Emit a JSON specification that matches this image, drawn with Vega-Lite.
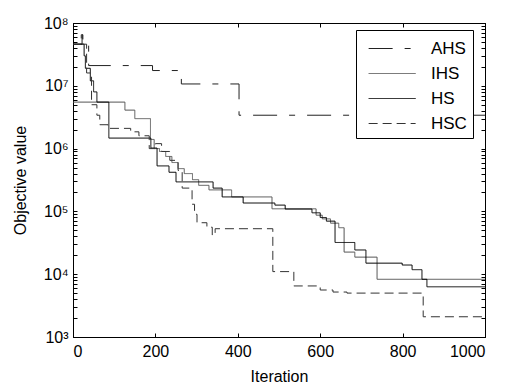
{
  "$schema": "https://vega.github.io/schema/vega-lite/v6.json",
  "width": 412,
  "height": 314,
  "autosize": {"type": "none"},
  "padding": {"left": 73, "top": 23, "right": 28, "bottom": 48},
  "background": "white",
  "config": {
    "font": "Liberation Sans",
    "view": {"stroke": "black", "strokeWidth": 1},
    "axis": {
      "domainColor": "black", "tickColor": "black", "labelColor": "black", "titleColor": "black",
      "grid": false, "labelFont": "Liberation Sans", "titleFont": "Liberation Sans",
      "labelFontSize": 16, "titleFontSize": 16, "titleFontWeight": "normal",
      "tickSize": -4, "domainWidth": 1, "tickWidth": 1
    }
  },
  "data": {"values": [
    {"series": "AHS", "iter": 0, "value": 46000000},
    {"series": "AHS", "iter": 22, "value": 65000000},
    {"series": "AHS", "iter": 24, "value": 46000000},
    {"series": "AHS", "iter": 38, "value": 21000000},
    {"series": "AHS", "iter": 193, "value": 17500000},
    {"series": "AHS", "iter": 263, "value": 10700000},
    {"series": "AHS", "iter": 403, "value": 3400000},
    {"series": "AHS", "iter": 1000, "value": 3400000},

    {"series": "IHS", "iter": 0, "value": 5500000},
    {"series": "IHS", "iter": 126, "value": 4100000},
    {"series": "IHS", "iter": 150, "value": 3000000},
    {"series": "IHS", "iter": 188, "value": 1400000},
    {"series": "IHS", "iter": 197, "value": 1000000},
    {"series": "IHS", "iter": 210, "value": 900000},
    {"series": "IHS", "iter": 225, "value": 750000},
    {"series": "IHS", "iter": 240, "value": 600000},
    {"series": "IHS", "iter": 255, "value": 480000},
    {"series": "IHS", "iter": 270, "value": 400000},
    {"series": "IHS", "iter": 290, "value": 320000},
    {"series": "IHS", "iter": 305, "value": 260000},
    {"series": "IHS", "iter": 330, "value": 220000},
    {"series": "IHS", "iter": 385, "value": 170000},
    {"series": "IHS", "iter": 483, "value": 110000},
    {"series": "IHS", "iter": 590, "value": 87000},
    {"series": "IHS", "iter": 605, "value": 76000},
    {"series": "IHS", "iter": 625, "value": 65000},
    {"series": "IHS", "iter": 645, "value": 55000},
    {"series": "IHS", "iter": 658, "value": 22500},
    {"series": "IHS", "iter": 684, "value": 18700},
    {"series": "IHS", "iter": 738, "value": 8300},
    {"series": "IHS", "iter": 1000, "value": 8300},

    {"series": "HS", "iter": 0, "value": 46000000},
    {"series": "HS", "iter": 27, "value": 30000000},
    {"series": "HS", "iter": 30, "value": 19000000},
    {"series": "HS", "iter": 42, "value": 12000000},
    {"series": "HS", "iter": 50, "value": 8000000},
    {"series": "HS", "iter": 58, "value": 5500000},
    {"series": "HS", "iter": 87, "value": 1470000},
    {"series": "HS", "iter": 189, "value": 1020000},
    {"series": "HS", "iter": 204, "value": 530000},
    {"series": "HS", "iter": 233, "value": 420000},
    {"series": "HS", "iter": 250, "value": 295000},
    {"series": "HS", "iter": 340, "value": 235000},
    {"series": "HS", "iter": 362, "value": 170000},
    {"series": "HS", "iter": 413, "value": 136000},
    {"series": "HS", "iter": 490, "value": 126000},
    {"series": "HS", "iter": 515, "value": 109000},
    {"series": "HS", "iter": 580, "value": 95000},
    {"series": "HS", "iter": 600, "value": 80000},
    {"series": "HS", "iter": 615, "value": 70000},
    {"series": "HS", "iter": 636, "value": 32000},
    {"series": "HS", "iter": 684, "value": 24300},
    {"series": "HS", "iter": 711, "value": 15000},
    {"series": "HS", "iter": 799, "value": 14000},
    {"series": "HS", "iter": 823, "value": 11800},
    {"series": "HS", "iter": 847, "value": 8300},
    {"series": "HS", "iter": 859, "value": 6300},
    {"series": "HS", "iter": 1000, "value": 6300},

    {"series": "HSC", "iter": 0, "value": 46000000},
    {"series": "HSC", "iter": 20, "value": 65000000},
    {"series": "HSC", "iter": 23, "value": 46000000},
    {"series": "HSC", "iter": 33, "value": 16000000},
    {"series": "HSC", "iter": 45, "value": 5000000},
    {"series": "HSC", "iter": 58, "value": 3400000},
    {"series": "HSC", "iter": 65, "value": 2400000},
    {"series": "HSC", "iter": 85, "value": 2100000},
    {"series": "HSC", "iter": 140, "value": 1850000},
    {"series": "HSC", "iter": 160, "value": 1600000},
    {"series": "HSC", "iter": 185, "value": 1000000},
    {"series": "HSC", "iter": 200, "value": 1200000},
    {"series": "HSC", "iter": 215, "value": 900000},
    {"series": "HSC", "iter": 235, "value": 650000},
    {"series": "HSC", "iter": 255, "value": 450000},
    {"series": "HSC", "iter": 265, "value": 235000},
    {"series": "HSC", "iter": 289, "value": 130000},
    {"series": "HSC", "iter": 295, "value": 90000},
    {"series": "HSC", "iter": 301, "value": 66000},
    {"series": "HSC", "iter": 325, "value": 56000},
    {"series": "HSC", "iter": 338, "value": 42000},
    {"series": "HSC", "iter": 345, "value": 53000},
    {"series": "HSC", "iter": 485, "value": 11000},
    {"series": "HSC", "iter": 536, "value": 6500},
    {"series": "HSC", "iter": 600, "value": 5600},
    {"series": "HSC", "iter": 631, "value": 5200},
    {"series": "HSC", "iter": 665, "value": 5000},
    {"series": "HSC", "iter": 850, "value": 2100},
    {"series": "HSC", "iter": 1000, "value": 2100}
  ]},
  "layer": [
    {
      "mark": {"type": "line", "interpolate": "step-after", "strokeWidth": 1},
      "encoding": {
        "x": {
          "field": "iter", "type": "quantitative",
          "scale": {"domain": [0, 1000], "nice": false},
          "axis": {"title": "Iteration", "format": "d", "values": [0, 200, 400, 600, 800, 1000], "labelPadding": 10, "titlePadding": 9}
        },
        "y": {
          "field": "value", "type": "quantitative",
          "scale": {"type": "log", "domain": [1000, 100000000], "nice": false},
          "axis": {
            "title": "Objective value", "titlePadding": 15, "labelPadding": 9,
            "values": [1000,2000,3000,4000,5000,6000,7000,8000,9000,10000,20000,30000,40000,50000,60000,70000,80000,90000,100000,200000,300000,400000,500000,600000,700000,800000,900000,1000000,2000000,3000000,4000000,5000000,6000000,7000000,8000000,9000000,10000000,20000000,30000000,40000000,50000000,60000000,70000000,80000000,90000000,100000000],
            "labelExpr": "datum.value == 1000 ? '10³' : datum.value == 10000 ? '10⁴' : datum.value == 100000 ? '10⁵' : datum.value == 1000000 ? '10⁶' : datum.value == 10000000 ? '10⁷' : datum.value == 100000000 ? '10⁸' : ''"
          }
        },
        "color": {
          "field": "series", "type": "nominal",
          "scale": {"domain": ["AHS", "IHS", "HS", "HSC"], "range": ["#222222", "#555555", "#000000", "#333333"]},
          "legend": {"title": null, "orient": "none", "legendX": 283, "legendY": 7, "symbolType": "M-0.5,0H3.5", "symbolSize": 552, "symbolStrokeWidth": 1, "labelFontSize": 17, "labelFont": "Liberation Sans", "labelColor": "black", "strokeColor": "black", "fillColor": "white", "padding": 6, "rowPadding": 4, "labelOffset": 44}
        },
        "strokeDash": {
          "field": "series", "type": "nominal",
          "scale": {"domain": ["AHS", "IHS", "HS", "HSC"], "range": [[24, 12, 6, 12], [1, 0], [1, 0], [9, 5]]},
          "legend": {"title": null, "orient": "none", "legendX": 283, "legendY": 7, "symbolType": "M-0.5,0H3.5", "symbolSize": 552, "symbolStrokeWidth": 1, "labelFontSize": 17, "labelFont": "Liberation Sans", "labelColor": "black", "strokeColor": "black", "fillColor": "white", "padding": 6, "rowPadding": 4, "labelOffset": 44}
        }
      }
    },
    {
      "mark": {"type": "point", "opacity": 0},
      "encoding": {
        "x": {"field": "iter", "type": "quantitative", "scale": {"domain": [0, 1000], "nice": false},
              "axis": {"orient": "top", "labels": false, "title": null, "values": [0, 200, 400, 600, 800, 1000]}},
        "y": {"field": "value", "type": "quantitative", "scale": {"type": "log", "domain": [1000, 100000000], "nice": false},
              "axis": {"orient": "right", "labels": false, "title": null,
                       "values": [1000,2000,3000,4000,5000,6000,7000,8000,9000,10000,20000,30000,40000,50000,60000,70000,80000,90000,100000,200000,300000,400000,500000,600000,700000,800000,900000,1000000,2000000,3000000,4000000,5000000,6000000,7000000,8000000,9000000,10000000,20000000,30000000,40000000,50000000,60000000,70000000,80000000,90000000,100000000]}}
      }
    }
  ],
  "resolve": {"axis": {"x": "independent", "y": "independent"}}
}
